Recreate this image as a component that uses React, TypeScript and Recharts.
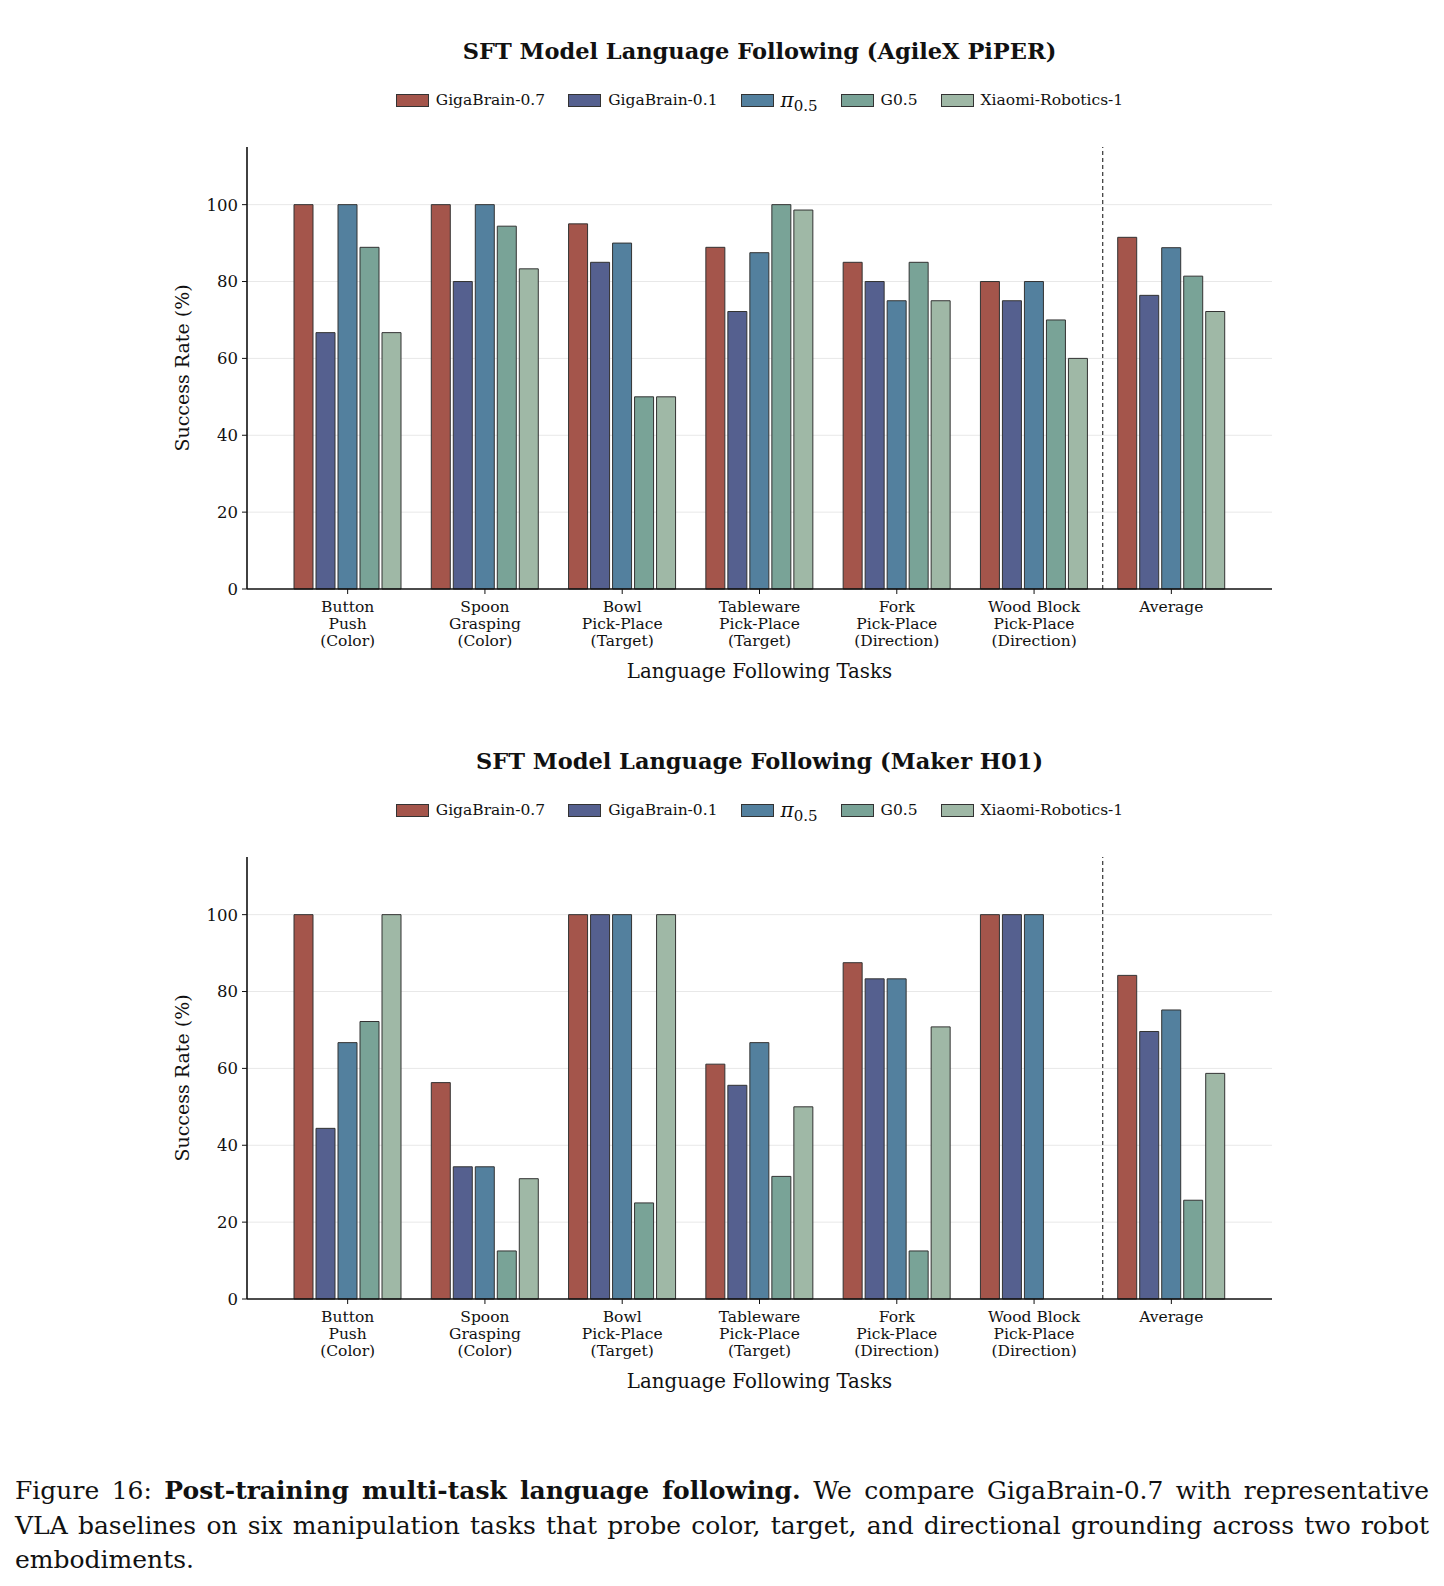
import React from 'react';
import { BarChart, Bar, XAxis, YAxis, CartesianGrid, ReferenceLine } from 'recharts';

const FONT = '"DejaVu Serif", serif';

// categories (multi-line tick labels)
const taskKeys = ['Button Push', 'Spoon Grasping', 'Bowl Pick-Place', 'Tableware Pick-Place', 'Fork Pick-Place', 'Wood Block Pick-Place', 'Average'];
const taskLines = [
  ['Button', 'Push', '(Color)'],
  ['Spoon', 'Grasping', '(Color)'],
  ['Bowl', 'Pick-Place', '(Target)'],
  ['Tableware', 'Pick-Place', '(Target)'],
  ['Fork', 'Pick-Place', '(Direction)'],
  ['Wood Block', 'Pick-Place', '(Direction)'],
  ['Average'],
];

// series
const seriesKeys = ['g07', 'g01', 'pi05', 'g05', 'xiaomi'];
const seriesNames = ['GigaBrain-0.7', 'GigaBrain-0.1', 'pi0.5', 'G0.5', 'Xiaomi-Robotics-1'];
const seriesColors = ['#a4554b', '#55608f', '#53809e', '#79a397', '#9fb8a6'];

// AgileX PiPER
const piperG07 = [100, 100, 95, 88.9, 85, 80, 91.5];
const piperG01 = [66.7, 80, 85, 72.2, 80, 75, 76.4];
const piperPi05 = [100, 100, 90, 87.5, 75, 80, 88.8];
const piperG05 = [88.9, 94.4, 50, 100, 85, 70, 81.4];
const piperXiaomi = [66.7, 83.3, 50, 98.6, 75, 60, 72.2];

// Maker H01
const makerG07 = [100, 56.3, 100, 61.1, 87.5, 100, 84.2];
const makerG01 = [44.4, 34.4, 100, 55.6, 83.3, 100, 69.6];
const makerPi05 = [66.7, 34.4, 100, 66.7, 83.3, 100, 75.2];
const makerG05 = [72.2, 12.5, 25, 31.9, 12.5, 0, 25.7];
const makerXiaomi = [100, 31.3, 100, 50, 70.8, 0, 58.7];

const yTicks = [0, 20, 40, 60, 80, 100];
const gridValues = [20, 40, 60, 80, 100];

function buildRows(cols: number[][]) {
  return taskKeys.map((task, i) => {
    const row: Record<string, any> = { task };
    seriesKeys.forEach((k, j) => { row[k] = cols[j][i]; });
    return row;
  });
}

const piperData = buildRows([piperG07, piperG01, piperPi05, piperG05, piperXiaomi]);
const makerData = buildRows([makerG07, makerG01, makerPi05, makerG05, makerXiaomi]);

const TaskTick = (props: any) => {
  const { x, y, payload } = props;
  const idx = taskKeys.indexOf(payload.value);
  const lines = taskLines[idx] || [payload.value];
  return (
    <text x={x} y={y} textAnchor="middle" fontSize={15.5} fill="#111" fontFamily={FONT}>
      {lines.map((l, i) => (
        <tspan key={i} x={x} dy={i === 0 ? 16 : 17}>{l}</tspan>
      ))}
    </text>
  );
};

function SeriesLabel({ name }: { name: string }) {
  if (name === 'pi0.5') {
    return (
      <span>
        <span style={{ fontStyle: 'italic', fontSize: 20 }}>π</span>
        <span style={{ fontSize: 15, position: 'relative', top: 4 }}>0.5</span>
      </span>
    );
  }
  return <span>{name}</span>;
}

function LegendRow() {
  return (
    <div style={{ display: 'flex', justifyContent: 'center', alignItems: 'center', gap: 23, fontFamily: FONT, fontSize: 15.5, color: '#111', height: 20 }}>
      {seriesKeys.map((k, i) => (
        <div key={k} style={{ display: 'flex', alignItems: 'center', gap: 7 }}>
          <div style={{ width: 31, height: 11, background: seriesColors[i], border: '1px solid #333' }} />
          <SeriesLabel name={seriesNames[i]} />
        </div>
      ))}
    </div>
  );
}

function Panel({ title, data, top }: { title: string; data: any[]; top: number }) {
  return (
    <div style={{ position: 'absolute', left: 0, top, width: 1428, height: 710 }}>
      <div style={{ position: 'absolute', left: 239, width: 1025, top: 30, lineHeight: '26px', textAlign: 'center', fontFamily: FONT, fontWeight: 'bold', fontSize: 22.5, color: '#111' }}>
        {title}
      </div>
      <div style={{ position: 'absolute', left: 239, width: 1025, top: 82 }}>
        <LegendRow />
      </div>
      <div style={{ position: 'absolute', left: 0, top: 0 }}>
        <BarChart width={1428} height={710} data={data} margin={{ top: 139, right: 164, bottom: 59, left: 109 }} barCategoryGap={15} barGap={3}>
          <CartesianGrid vertical={false} stroke="#e8e8e8" strokeWidth={1} horizontalValues={gridValues} />
          <XAxis
            dataKey="task"
            interval={0}
            padding={{ left: 32, right: 32 }}
            height={70}
            tick={<TaskTick />}
            tickSize={5}
            tickLine={{ stroke: '#111' }}
            axisLine={{ stroke: '#111', strokeWidth: 1.6 }}
            label={{ value: 'Language Following Tasks', position: 'bottom', offset: 5, fontSize: 19.8, fill: '#111', fontFamily: FONT }}
          />
          <YAxis
            domain={[0, 115]}
            ticks={yTicks}
            width={130}
            tickSize={5}
            tickMargin={4}
            tick={{ fontSize: 16.5, fill: '#111', fontFamily: FONT }}
            tickLine={{ stroke: '#111' }}
            axisLine={{ stroke: '#111', strokeWidth: 1.6 }}
            label={{ value: 'Success Rate (%)', angle: -90, position: 'center', fontSize: 19, fill: '#111', fontFamily: FONT }}
          />
          <ReferenceLine x="Average" position="start" stroke="#333" strokeDasharray="4 3" strokeWidth={1.2} />
          {seriesKeys.map((k, i) => (
            <Bar key={k} dataKey={k} fill={seriesColors[i]} stroke="#333" strokeWidth={1} isAnimationActive={false} />
          ))}
        </BarChart>
      </div>
    </div>
  );
}

const captionLines = [
  [
    <span key="a">Figure 16: </span>,
    <b key="b">Post-training multi-task language following.</b>,
    <span key="c"> We compare GigaBrain-0.7 with representative</span>,
  ],
  ['VLA baselines on six manipulation tasks that probe color, target, and directional grounding across two robot'],
  ['embodiments.'],
];

export default function App() {
  return (
    <div style={{ position: 'relative', width: 1428, height: 1570, background: '#fff' }}>
      <Panel title="SFT Model Language Following (AgileX PiPER)" data={piperData} top={0} />
      <Panel title="SFT Model Language Following (Maker H01)" data={makerData} top={710} />
      <div style={{ position: 'absolute', left: 7, top: 1466, width: 1414, fontFamily: FONT, fontSize: 25, lineHeight: '34.5px', color: '#111' }}>
        {captionLines.map((line, i) => (
          <div key={i} style={{ textAlign: 'justify', textAlignLast: i < captionLines.length - 1 ? 'justify' : 'left', whiteSpace: 'nowrap' }}>
            {line}
          </div>
        ))}
      </div>
    </div>
  );
}
